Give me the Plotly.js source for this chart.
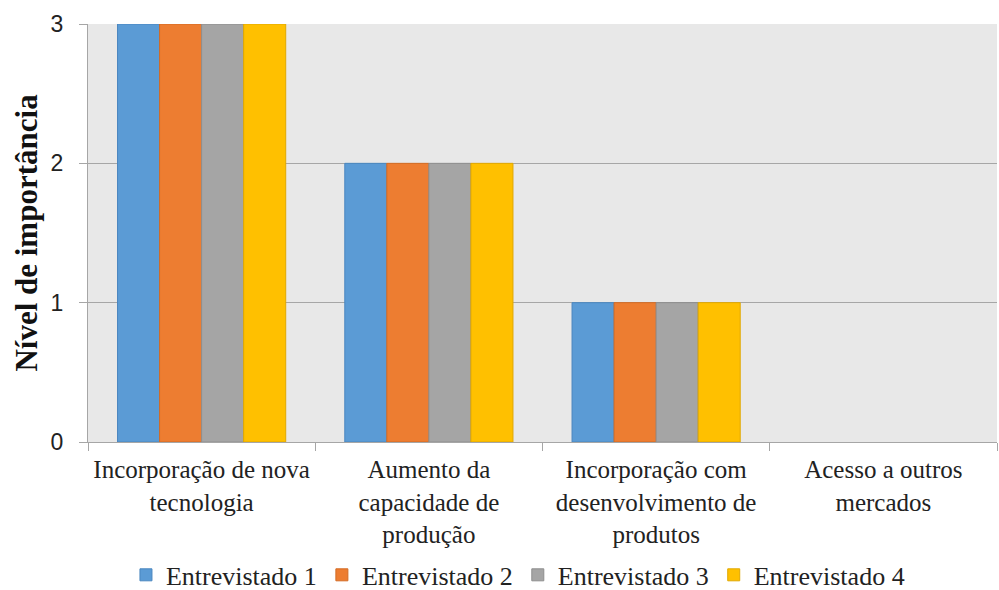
<!DOCTYPE html>
<html><head><meta charset="utf-8">
<script src="https://cdn.plot.ly/plotly-3.0.1.min.js"></script>
<style>html,body{margin:0;padding:0;background:#fff}#c{width:999px;height:590px}</style>
</head><body><div id="c"></div>
<script>
const categories = ["Incorporação de nova<br>tecnologia","Aumento da<br>capacidade de<br>produção","Incorporação com<br>desenvolvimento de<br>produtos","Acesso a outros<br>mercados"];
const seriesNames = ["Entrevistado 1","Entrevistado 2","Entrevistado 3","Entrevistado 4"];
const entrevistado1 = [3,2,1,0];
const entrevistado2 = [3,2,1,0];
const entrevistado3 = [3,2,1,0];
const entrevistado4 = [3,2,1,0];
const yTicks = [0,1,2,3];

const fills = ["#5B9BD5","#ED7D31","#A5A5A5","#FFC000"];
const borders = ["#4A86BF","#D36B24","#8E8E8E","#E0A800"];
const values = [entrevistado1,entrevistado2,entrevistado3,entrevistado4];
const traces = values.map((v,i)=>({
  type:'bar', x:categories, y:v, name:seriesNames[i],
  marker:{color:fills[i], line:{color:borders[i], width:v.map(val=>val===0?0:1)}}
}));
const serif = '"Liberation Serif","Times New Roman",serif';
const layout = {
  width:999, height:590,
  margin:{l:88,r:2,t:24,b:148, autoexpand:false},
  paper_bgcolor:'#ffffff', plot_bgcolor:'#e8e8e8',
  barmode:'group', bargap:0.26, bargroupgap:0,
  font:{family:serif, size:25, color:'#222'},
  xaxis:{type:'category', showline:true, linecolor:'#a6a6a6', linewidth:1,
    ticks:'outside', tickson:'boundaries', ticklen:8, tickcolor:'#a6a6a6',
    ticklabelstandoff:5,
    tickfont:{family:serif, size:25, color:'#222'},
    showgrid:false, automargin:false},
  yaxis:{range:[0,3], tickvals:yTicks, ticktext:yTicks.map(String),
    showgrid:true, gridcolor:'#a6a6a6', gridwidth:1,
    showline:true, linecolor:'#a6a6a6', ticks:'outside', ticklen:8, tickcolor:'#a6a6a6',
    ticklabelstandoff:11, automargin:false,
    tickfont:{family:'"Liberation Sans",Arial,sans-serif', size:23, color:'#222'},
    zeroline:false,
    title:{text:'<b>Nível de importância</b>', standoff:3,
      font:{family:serif, size:31, color:'#111'}}},
  legend:{orientation:'h', x:0.473, xanchor:'center', y:-0.318, yanchor:'middle',
    bgcolor:'rgba(0,0,0,0)',
    font:{family:serif, size:26, color:'#222'},
    itemwidth:30, tracegroupgap:0},
  showlegend:true
};
Plotly.newPlot('c', traces, layout, {displayModeBar:false, staticPlot:true});
</script></body></html>
